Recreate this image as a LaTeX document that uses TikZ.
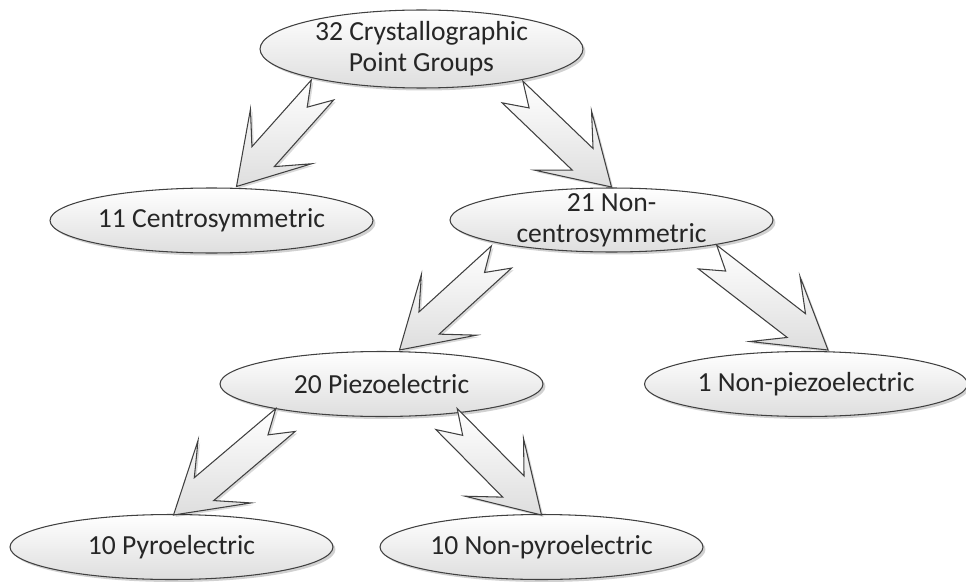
\documentclass[tikz,border=0pt]{standalone}
\usepackage{fontspec}
\setmainfont{Carlito}
\usetikzlibrary{calc,shapes.geometric,shadows}
\definecolor{edgegray}{RGB}{64,64,64}
\definecolor{textgray}{RGB}{38,38,38}
\definecolor{shadelight}{RGB}{222,222,222}
\tikzset{group/.style={ellipse, draw=edgegray, line width=0.6pt, top color=white, bottom color=shadelight,
             minimum width=6.46cm, minimum height=1.3cm, inner sep=0pt, inner xsep=-6mm, align=center,
             text=textgray, font=\fontsize{15.7}{17.6}\selectfont,
             drop shadow={shadow xshift=0.05cm, shadow yshift=-0.05cm, fill=black, opacity=0.18}},
         arrowbody/.style={draw=edgegray, line width=0.6pt, top color=white, bottom color=shadelight,
             line join=miter, drop shadow={shadow xshift=0.04cm, shadow yshift=-0.04cm, fill=black, opacity=0.15}}}
% notched block arrow: #1 tail centre, #2 tip
\newcommand{\notcharrow}[2]{%
  \coordinate (j) at ($(#2)!0.8cm!(#1)$);
  \coordinate (b) at ($(#2)!1.34cm!(#1)$);
  \path[arrowbody] ($(#1)!0.3cm!90:(#2)$) -- ($(#1)!0.46cm!(#2)$) -- ($(#1)!0.3cm!-90:(#2)$)
    -- ($(j)!0.3cm!-90:(#2)$) -- ($(b)!0.82cm!-90:(#2)$) -- (#2)
    -- ($(b)!0.82cm!90:(#2)$) -- ($(j)!0.3cm!90:(#2)$) -- cycle;}

\begin{document}
\begin{tikzpicture}[x=0.02cm, y=-0.02cm]
  \clip (0,0) rectangle (966,581);
  \node[group, minimum height=1.56cm, inner ysep=-3mm] (top) at (421.5,49) {32 Crystallographic\\Point Groups};
  \node[group] (centro)    at (211.5,220.5) {11 Centrosymmetric};
  \node[group, minimum height=1.28cm, inner ysep=-3mm] (noncentro) at (611.5,220) {21 Non-\\centrosymmetric};
  \node[group] (piezo)     at (381.5,384) {20 Piezoelectric};
  \node[group] (nonpiezo)  at (806,384)   {1 Non-piezoelectric};
  \node[group] (pyro)      at (171.5,547) {10 Pyroelectric};
  \node[group] (nonpyro)   at (541.5,547) {10 Non-pyroelectric};

  \coordinate (t1) at ($(top)+(-99,41)$);       \coordinate (p1) at ($(centro)+(25,-34)$);
  \coordinate (t2) at ($(top)+(91,43)$);        \coordinate (p2) at ($(noncentro)+(0,-33)$);
  \coordinate (t3) at ($(noncentro)+(-110,37)$); \coordinate (p3) at ($(piezo)+(18,-34)$);
  \coordinate (t4) at ($(noncentro)+(96,37)$);  \coordinate (p4) at ($(nonpiezo)+(22,-34)$);
  \coordinate (t5) at ($(piezo)+(-96,36)$);     \coordinate (p5) at ($(pyro)+(2,-32)$);
  \coordinate (t6) at ($(piezo)+(65,35)$);      \coordinate (p6) at ($(nonpyro)+(0,-32)$);
  \notcharrow{t1}{p1}
  \notcharrow{t2}{p2}
  \notcharrow{t3}{p3}
  \notcharrow{t4}{p4}
  \notcharrow{t5}{p5}
  \notcharrow{t6}{p6}
\end{tikzpicture}
\end{document}
